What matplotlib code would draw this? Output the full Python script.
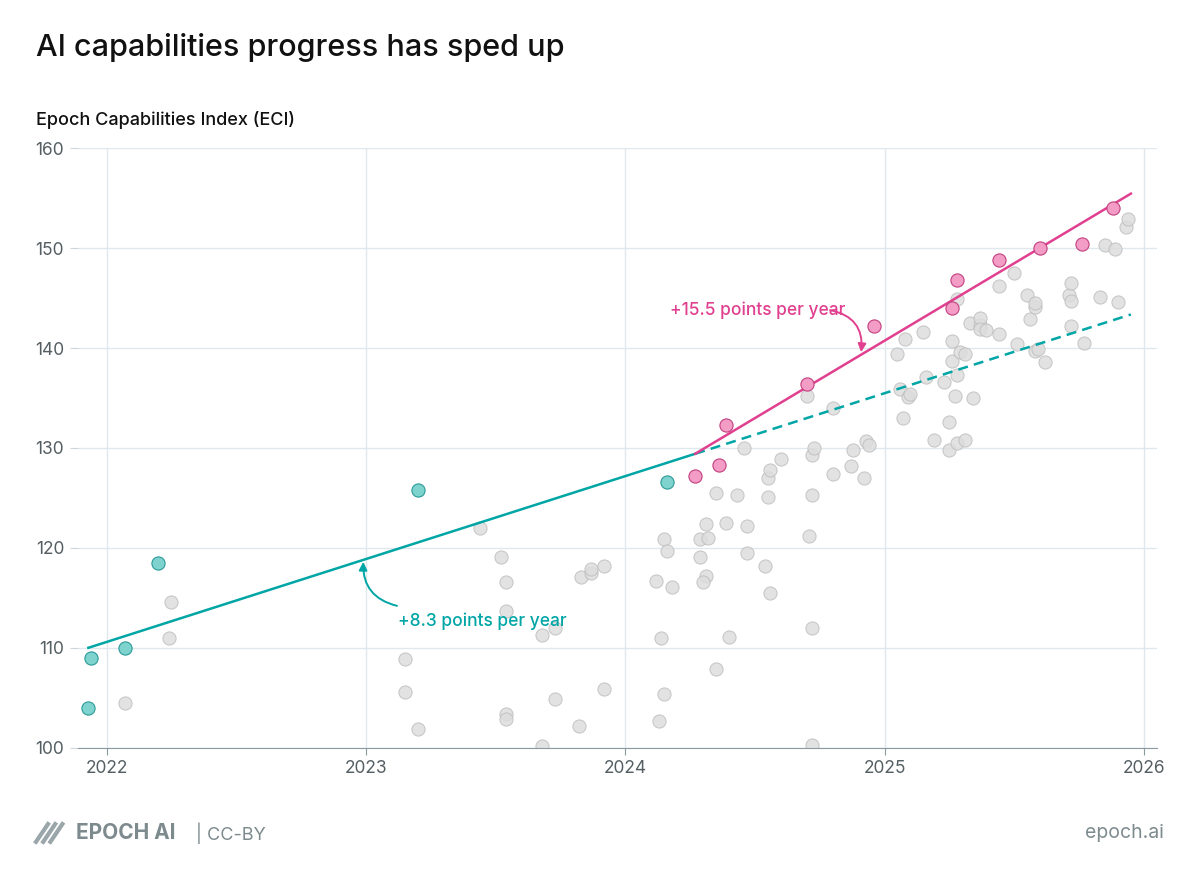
import matplotlib.pyplot as plt
from matplotlib.lines import Line2D

plt.rcParams['font.family'] = ['Inter', 'DejaVu Sans']

teal = '#00A5A6'
pink = '#E0408F'

# frontier points (teal, before the break)
teal_x = [2021.93, 2021.94, 2022.07, 2022.20, 2023.20, 2024.16]
teal_y = [104.0, 109.0, 110.0, 118.5, 125.8, 126.6]
# frontier points (pink, after the break)
pink_x = [2024.27, 2024.36, 2024.39, 2024.70, 2024.96, 2025.26, 2025.28, 2025.44, 2025.60, 2025.76, 2025.88]
pink_y = [127.2, 128.3, 132.3, 136.4, 142.2, 144.0, 146.8, 148.8, 150.0, 150.4, 154.0]
# all other models
grey_x = [2022.07, 2022.24, 2022.25, 2023.15, 2023.15, 2023.20, 2023.44, 2023.52, 2023.54, 2023.54,
          2023.54, 2023.54, 2023.68, 2023.68, 2023.73, 2023.73, 2023.82, 2023.83, 2023.87, 2023.87,
          2023.92, 2023.92, 2024.12, 2024.14, 2024.13, 2024.15, 2024.15, 2024.16, 2024.18, 2024.29,
          2024.31, 2024.32, 2024.29, 2024.31, 2024.30, 2024.35, 2024.35, 2024.39, 2024.40, 2024.43,
          2024.46, 2024.47, 2024.47, 2024.54, 2024.55, 2024.56, 2024.55, 2024.56, 2024.60, 2024.70,
          2024.72, 2024.71, 2024.72, 2024.73, 2024.72, 2024.80, 2024.80, 2024.87, 2024.88, 2024.92,
          2024.93, 2024.94, 2024.72, 2025.05, 2025.06, 2025.07, 2025.08, 2025.09, 2025.10, 2025.15,
          2025.16, 2025.19, 2025.23, 2025.25, 2025.25, 2025.26, 2025.26, 2025.27, 2025.28, 2025.28,
          2025.28, 2025.29, 2025.31, 2025.31, 2025.33, 2025.34, 2025.37, 2025.37, 2025.37, 2025.39,
          2025.44, 2025.44, 2025.50, 2025.51, 2025.55, 2025.56, 2025.58, 2025.58, 2025.58, 2025.59,
          2025.62, 2025.71, 2025.72, 2025.72, 2025.72, 2025.77, 2025.83, 2025.85, 2025.89, 2025.90,
          2025.93, 2025.94]
grey_y = [104.5, 111.0, 114.6, 108.9, 105.6, 101.9, 122.0, 119.1, 116.6, 113.7,
          103.4, 102.9, 100.2, 111.3, 112.0, 104.9, 102.2, 117.1, 117.5, 117.9,
          118.2, 105.9, 116.7, 111.0, 102.7, 105.4, 120.9, 119.7, 116.1, 120.9,
          122.4, 121.0, 119.1, 117.2, 116.6, 125.5, 107.9, 122.5, 111.1, 125.3,
          130.0, 122.2, 119.5, 118.2, 127.0, 127.8, 125.1, 115.5, 128.9, 135.2,
          112.0, 121.2, 129.3, 130.0, 125.3, 134.0, 127.4, 128.2, 129.8, 127.0,
          130.7, 130.3, 100.3, 139.4, 135.9, 133.0, 140.9, 135.1, 135.4, 141.6,
          137.1, 130.8, 136.6, 129.8, 132.6, 138.7, 140.7, 135.2, 137.3, 144.9,
          130.5, 139.6, 130.8, 139.4, 142.5, 135.0, 142.3, 143.0, 141.9, 141.8,
          141.4, 146.2, 147.5, 140.4, 145.3, 142.9, 144.1, 144.5, 139.7, 139.9,
          138.6, 145.3, 146.5, 144.7, 142.2, 140.5, 145.1, 150.3, 149.9, 144.6,
          152.1, 152.9]

# trend lines
x_start, x_break, x_end = 2021.93, 2024.27, 2025.95
y_start = 110.0
slope_before = 8.3
slope_after = 15.5
y_break = y_start + slope_before * (x_break - x_start)

fig = plt.figure(figsize=(12, 8.88), dpi=100)
ax = fig.add_axes([0.065, 0.158, 0.899, 0.675])

ax.scatter(grey_x, grey_y, s=90, color='#dddddd', edgecolor='#bdbdbd', linewidth=0.7, alpha=0.85, zorder=2)
ax.scatter(teal_x, teal_y, s=90, color='#7fd3cf', edgecolor='#2a9a98', linewidth=0.8, zorder=4)
ax.scatter(pink_x, pink_y, s=90, color='#f29cc6', edgecolor='#c2407f', linewidth=0.8, zorder=4)

ax.plot([x_start, x_break], [y_start, y_break], color=teal, lw=1.8, zorder=3)
ax.plot([x_break, x_end], [y_break, y_break + slope_before * (x_end - x_break)],
        color=teal, lw=1.8, ls=(0, (4, 2.5)), zorder=3)
ax.plot([x_break, x_end], [y_break, y_break + slope_after * (x_end - x_break)],
        color=pink, lw=1.8, zorder=3)

ax.text(2024.51, 143.8, '+15.5 points per year', color=pink, fontsize=12.5,
        ha='center', va='center', fontweight='medium')
ax.annotate('', xy=(2024.91, 139.6), xytext=(2024.79, 143.8),
            arrowprops=dict(arrowstyle='-|>', color=pink, lw=1.4, connectionstyle='arc3,rad=-0.45',
                            shrinkA=0, shrinkB=0, mutation_scale=12))
ax.text(2023.45, 112.7, '+8.3 points per year', color=teal, fontsize=12.5,
        ha='center', va='center', fontweight='medium')
ax.annotate('', xy=(2022.99, 118.6), xytext=(2023.12, 114.2),
            arrowprops=dict(arrowstyle='-|>', color=teal, lw=1.4, connectionstyle='arc3,rad=-0.4',
                            shrinkA=0, shrinkB=0, mutation_scale=12))

ax.set_xlim(2021.89, 2026.05)
ax.set_ylim(100, 160)
ax.set_xticks([2022, 2023, 2024, 2025, 2026])
ax.set_xticklabels(['2022', '2023', '2024', '2025', '2026'])
ax.set_yticks(range(100, 161, 10))
ax.grid(True, color='#dfe8ec', lw=1)
ax.set_axisbelow(True)
for s in ['top', 'right', 'left']:
    ax.spines[s].set_visible(False)
ax.spines['bottom'].set_color('#8a9a9f')
ax.tick_params(axis='y', length=6, color='#cdd8dc', labelsize=12.5, labelcolor='#555f63', pad=4)
ax.tick_params(axis='x', length=5, color='#8a9a9f', labelsize=12.5, labelcolor='#555f63')

fig.text(0.03, 0.947, 'AI capabilities progress has sped up', fontsize=22, va='center',
         color='#111', fontweight='medium')
fig.text(0.03, 0.865, 'Epoch Capabilities Index (ECI)', fontsize=13, va='center',
         color='#111', fontweight='medium')
fig.text(0.063, 0.062, 'EPOCH AI', fontsize=15, va='center', color='#7d8a8e', fontweight='bold')
fig.text(0.163, 0.062, '| CC-BY', fontsize=13, va='center', color='#7d8a8e')
fig.text(0.97, 0.062, 'epoch.ai', fontsize=14, va='center', ha='right', color='#7d8a8e')
for i in range(3):
    fig.add_artist(Line2D([0.030 + i * 0.006, 0.040 + i * 0.006], [0.052, 0.072],
                          color='#9aa6aa', lw=3, transform=fig.transFigure))

fig.savefig('out.png', dpi=100)
